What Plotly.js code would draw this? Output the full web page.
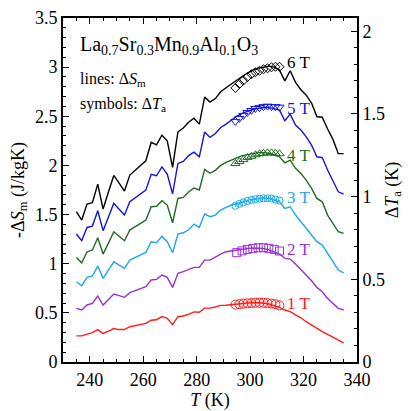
<!DOCTYPE html>
<html>
<head>
<meta charset="utf-8">
<script src="https://cdn.plot.ly/plotly-3.0.1.min.js"></script>
<style>html,body{margin:0;padding:0;background:#fff;}#chart{width:409px;height:411px;}</style>
</head>
<body>
<div id="chart"></div>
<script>
// Temperature grid for the -ΔS_m lines (K)
const T = [235,237,239,241,243,245,247,249,251,253,255,257,259,261,263,265,267,269,271,273,275,277,279,281,283,285,287,289,291,293,295,297,299,301,303,305,307,309,311,313,315,317,319,321,323,325,327,329,331,333,335];
// -ΔS_m (J/kgK)
const dS6 = [1.53,1.444,1.607,1.62,1.81,1.556,1.73,1.898,1.82,1.739,1.902,1.95,2.0,2.047,2.235,2.21,2.308,2.25,1.98,2.342,2.38,2.44,2.48,2.42,2.695,2.645,2.68,2.75,2.79,2.83,2.87,2.905,2.94,2.97,2.99,3.0,3.01,3.0,2.97,2.86,2.963,2.845,2.77,2.715,2.635,2.495,2.49,2.37,2.265,2.12,2.12];
const dS5 = [1.302,1.234,1.369,1.383,1.539,1.336,1.475,1.614,1.555,1.495,1.63,1.67,1.71,1.749,1.91,1.895,1.985,1.912,1.71,2.02,2.04,2.1,2.135,2.088,2.34,2.285,2.325,2.386,2.42,2.46,2.5,2.53,2.55,2.57,2.58,2.59,2.59,2.58,2.563,2.454,2.522,2.41,2.36,2.29,2.207,2.088,2.08,1.953,1.85,1.732,1.708];
const dS4 = [1.064,1.01,1.122,1.139,1.264,1.098,1.21,1.325,1.28,1.234,1.342,1.375,1.41,1.444,1.58,1.585,1.64,1.597,1.417,1.664,1.675,1.73,1.77,1.75,1.96,1.92,1.95,2.0,2.03,2.055,2.08,2.1,2.11,2.12,2.13,2.13,2.125,2.11,2.088,2.027,2.054,1.97,1.919,1.85,1.766,1.664,1.63,1.495,1.41,1.325,1.308];
const dS3 = [0.817,0.776,0.861,0.875,0.976,0.851,0.935,1.02,0.985,0.953,1.037,1.063,1.09,1.115,1.224,1.214,1.278,1.224,1.112,1.302,1.315,1.345,1.403,1.37,1.505,1.478,1.495,1.546,1.573,1.597,1.61,1.63,1.645,1.655,1.665,1.67,1.665,1.65,1.63,1.563,1.58,1.495,1.427,1.359,1.292,1.224,1.19,1.105,1.02,0.936,0.908];
const dS2 = [0.546,0.529,0.58,0.597,0.671,0.58,0.636,0.692,0.675,0.658,0.705,0.725,0.745,0.766,0.834,0.841,0.885,0.861,0.759,0.902,0.919,0.945,0.963,0.963,1.037,1.037,1.071,1.098,1.122,1.132,1.14,1.15,1.155,1.16,1.16,1.155,1.14,1.12,1.098,1.054,1.047,0.997,0.942,0.885,0.827,0.759,0.715,0.647,0.597,0.546,0.529];
const dS1 = [0.266,0.266,0.283,0.298,0.33,0.29,0.315,0.34,0.33,0.33,0.359,0.37,0.38,0.393,0.425,0.43,0.462,0.444,0.38,0.461,0.468,0.485,0.51,0.506,0.548,0.548,0.56,0.576,0.578,0.585,0.592,0.598,0.6,0.605,0.605,0.6,0.59,0.575,0.556,0.529,0.512,0.48,0.45,0.41,0.375,0.34,0.31,0.28,0.25,0.22,0.195];
// ΔT_a (K) symbols
const Ta12 = [294.5,296,297.5,299,300.5,302,303.5,305,306.5,308,309.5,311];
const Ta9 = [295,297,299,301,303,305,307,309,311];
const dT6 = [1.657,1.681,1.702,1.723,1.74,1.752,1.761,1.77,1.776,1.782,1.785,1.785];
const dT5 = [1.455,1.473,1.491,1.509,1.521,1.533,1.538,1.544,1.547,1.544,1.544,1.541];
const dT4 = [1.2,1.212,1.224,1.236,1.244,1.253,1.259,1.262,1.265,1.265,1.262,1.259];
const dT3 = [0.944,0.956,0.965,0.974,0.98,0.984,0.988,0.99,0.99,0.988,0.983,0.976];
const dT2 = [0.661,0.672,0.681,0.687,0.691,0.691,0.687,0.681,0.671];
const dT1 = [0.347,0.35,0.353,0.355,0.356,0.358,0.358,0.358,0.356,0.353,0.349,0.342];

const fieldLabels = ['6 T','5 T','4 T','3 T','2 T','1 T'];
const colors = ['#000000','#1414dc','#1f6b21','#1ea8ea','#9a30d2','#ff1c1c'];
const lines = [dS6,dS5,dS4,dS3,dS2,dS1];
const symT = [Ta12,Ta12,Ta12,Ta12,Ta9,Ta12];
const symV = [dT6,dT5,dT4,dT3,dT2,dT1];
const symbols = ['diamond-open','triangle-down-open','triangle-up-open','circle-open-dot','square-open','circle-open'];
const symSize = [7,8,8,7,8,9];

const FONT = 'Liberation Serif, Times New Roman, Times, serif';
function f(size){ return {family:FONT,size:size,color:'#000'}; }
const traces = [];
lines.forEach((v,i)=>traces.push({x:T,y:v,type:'scatter',mode:'lines',line:{color:colors[i],width:1.4},hoverinfo:'skip',showlegend:false}));
symV.forEach((v,i)=>traces.push({x:symT[i],y:v,yaxis:'y2',type:'scatter',mode:'markers',marker:{symbol:symbols[i],size:symSize[i],color:colors[i],line:{width:1,color:colors[i]}},showlegend:false}));

// label positions (data coords of -ΔS axis)
const labelY = [3.05,2.58,2.1,1.67,1.14,0.6];
const annotations = fieldLabels.map((t,i)=>({x:313,y:labelY[i],xref:'x',yref:'y',text:t,showarrow:false,xanchor:'left',yanchor:'middle',font:{family:FONT,size:17,color:colors[i]}}));
annotations.push({x:0.05,y:0.921,xref:'paper',yref:'paper',text:'La<sub>0.7</sub>Sr<sub>0.3</sub>Mn<sub>0.9</sub>Al<sub>0.1</sub>O<sub>3</sub>',showarrow:false,xanchor:'left',yanchor:'middle',font:f(20)});
annotations.push({x:0.05,y:0.82,xref:'paper',yref:'paper',text:'lines: Δ<i>S</i><sub>m</sub>',showarrow:false,xanchor:'left',yanchor:'middle',font:f(16)});
annotations.push({x:0.05,y:0.75,xref:'paper',yref:'paper',text:'symbols: Δ<i>T</i><sub>a</sub>',showarrow:false,xanchor:'left',yanchor:'middle',font:f(16)});

function axis(extra){
  return Object.assign({showgrid:false,zeroline:false,showline:true,linecolor:'#000',linewidth:2,ticks:'inside',ticklen:6,tickwidth:1,tickcolor:'#000',tickfont:f(18)},extra);
}
const layout = {
  width:409,height:411,
  margin:{l:63,r:52,t:18,b:49},
  paper_bgcolor:'#fff',plot_bgcolor:'#fff',
  font:f(18),
  xaxis:axis({range:[230,340],dtick:20,tick0:240,mirror:'ticks',
    minor:{dtick:5,ticklen:3,ticks:'inside',tickcolor:'#000'},
    title:{text:'<i>T</i> (K)',font:f(18),standoff:1}}),
  yaxis:axis({range:[0,3.5],dtick:0.5,mirror:true,
    minor:{dtick:0.1,ticklen:3,ticks:'inside',tickcolor:'#000'},
    title:{text:'-Δ<i>S</i><sub>m</sub> (J/kgK)',font:f(18),standoff:6}}),
  yaxis2:axis({range:[0,2.08],dtick:0.5,overlaying:'y',side:'right',
    minor:{dtick:0.1,ticklen:3,ticks:'inside',tickcolor:'#000'},
    title:{text:'Δ<i>T</i><sub>a</sub> (K)',font:f(18),standoff:1}}),
  annotations:annotations
};
Plotly.newPlot('chart',traces,layout,{displayModeBar:false,staticPlot:true});
</script>
</body>
</html>
